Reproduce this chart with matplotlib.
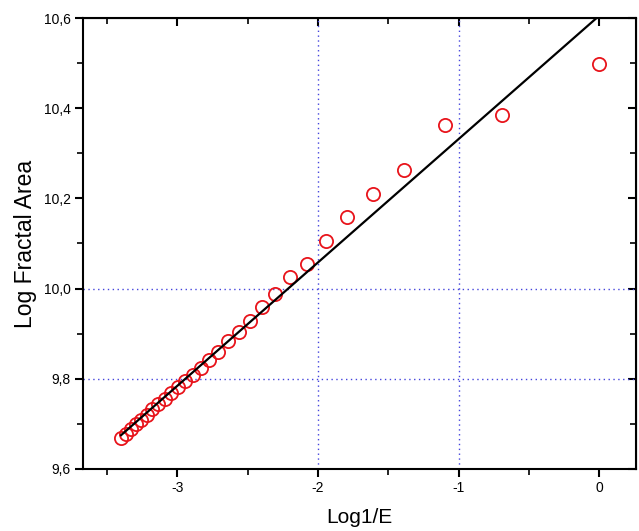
import numpy as np
import matplotlib
matplotlib.use('Agg')
import matplotlib.pyplot as plt
from matplotlib.ticker import MultipleLocator, FuncFormatter

# log(1/E) for E = 1/n, n = 1..30
n_boxes = list(range(1, 31))
log_inv_e = [-np.log(n) for n in n_boxes]
log_area = [10.498, 10.385, 10.363, 10.263, 10.210, 10.159, 10.106, 10.055, 10.026, 9.988,
            9.959, 9.928, 9.904, 9.884, 9.860, 9.842, 9.824, 9.808, 9.795, 9.782,
            9.768, 9.756, 9.744, 9.732, 9.720, 9.709, 9.699, 9.689, 9.678, 9.668]

# linear fit shown in the figure
fit_slope = 0.2737
fit_intercept = 10.6055
fit_x = [-3.40, 0.0]

plt.rcParams['font.family'] = ['Liberation Sans', 'DejaVu Sans']

fig = plt.figure(figsize=(6.39, 5.31), dpi=100)
ax = fig.add_axes([0.130, 0.1168, 0.8653, 0.8493])

# dotted blue reference lines
for gx in [-2, -1]:
    ax.axvline(gx, color='#4444dd', linestyle=(0, (1, 2.5)), linewidth=1.0, zorder=1)
for gy in [9.8, 10.0]:
    ax.axhline(gy, color='#4444dd', linestyle=(0, (1, 2.5)), linewidth=1.0, zorder=1)

fx = np.array(fit_x)
ax.plot(fx, fit_slope * fx + fit_intercept, color='black', linewidth=1.6, zorder=3)
ax.plot(log_inv_e, log_area, linestyle='none', marker='o', markersize=9.5,
        markerfacecolor='none', markeredgecolor='#e8141b', markeredgewidth=1.3, zorder=2)

ax.set_xlim(-3.67, 0.26)
ax.set_ylim(9.6, 10.6)

ax.xaxis.set_major_locator(MultipleLocator(1))
ax.xaxis.set_minor_locator(MultipleLocator(0.5))
ax.yaxis.set_major_locator(MultipleLocator(0.2))
ax.yaxis.set_minor_locator(MultipleLocator(0.1))
ax.yaxis.set_major_formatter(FuncFormatter(lambda v, p: f'{v:.1f}'.replace('.', ',')))
ax.xaxis.set_major_formatter(FuncFormatter(lambda v, p: f'{v:.0f}'))

for s in ax.spines.values():
    s.set_linewidth(1.5)

ax.tick_params(axis='both', which='major', direction='out', length=6, width=1.5,
               labelsize=10, pad=3)
ax.tick_params(axis='both', which='minor', direction='out', length=4, width=1.2)

# mirrored ticks on top and right, pointing inward
top = ax.secondary_xaxis('top')
top.xaxis.set_major_locator(MultipleLocator(1))
top.xaxis.set_minor_locator(MultipleLocator(0.5))
top.tick_params(which='major', direction='in', length=6, width=1.5, labeltop=False)
top.tick_params(which='minor', direction='in', length=4, width=1.2)
right = ax.secondary_yaxis('right')
right.yaxis.set_major_locator(MultipleLocator(0.2))
right.yaxis.set_minor_locator(MultipleLocator(0.1))
right.tick_params(which='major', direction='in', length=6, width=1.5, labelright=False)
right.tick_params(which='minor', direction='in', length=4, width=1.2)

ax.set_xlabel('Log1/E', fontsize=15, labelpad=9)
ax.set_ylabel('Log Fractal Area', fontsize=16.5, labelpad=5)

fig.savefig('out.png', dpi=100)
